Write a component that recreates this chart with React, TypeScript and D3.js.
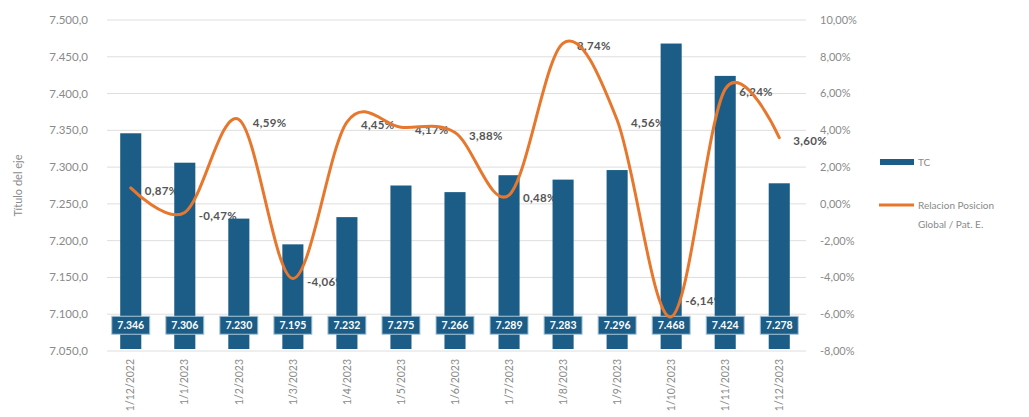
import React from 'react';
import * as d3 from 'd3';

const categories = [
  '1/12/2022', '1/1/2023', '1/2/2023', '1/3/2023', '1/4/2023', '1/5/2023', '1/6/2023',
  '1/7/2023', '1/8/2023', '1/9/2023', '1/10/2023', '1/11/2023', '1/12/2023',
];
const tcValues = [7346, 7306, 7230, 7195, 7232, 7275, 7266, 7289, 7283, 7296, 7468, 7424, 7278];
const ratioValues = [0.87, -0.47, 4.59, -4.06, 4.45, 4.17, 3.88, 0.48, 8.74, 4.56, -6.14, 6.24, 3.6];
const leftTicks = [7050, 7100, 7150, 7200, 7250, 7300, 7350, 7400, 7450, 7500];
const rightTicks = [-8, -6, -4, -2, 0, 2, 4, 6, 8, 10];
const seriesNames = ['TC', 'Relacion Posicion', 'Global / Pat. E.'];
const axisTitle = 'Título del eje';

const W = 1029;
const H = 417;
const BAR = '#1b5d86';
const ORANGE = '#e8772e';
const GRID = '#dedede';
const AXIS_TXT = '#8a8a8a';
const FONT = 'Lato, "Open Sans", sans-serif';

const es = d3.formatLocale({
  decimal: ',', thousands: '.', grouping: [3], currency: ['', ''], minus: '-',
});
const fmtLeft = es.format(',.1f');
const fmtBox = es.format(',.0f');
const fmtPct = (v: number) => `${es.format(',.2f')(v)}%`;

// label nudge for the one label Excel pushed up
const labelDy = (i: number) => (i === 10 ? -19 : 0);

const App = () => {
  const x = d3.scaleBand<string>()
    .domain(categories)
    .range([104, 806])
    .paddingInner(0.61)
    .paddingOuter(0.3);
  const yL = d3.scaleLinear().domain([7050, 7500]).range([351, 20]);
  const yR = d3.scaleLinear().domain([-8, 10]).range([351, 20]);
  const cx = (i: number) => (x(categories[i]) as number) + x.bandwidth() / 2;

  const linePath = d3.line<number>()
    .x((_, i) => cx(i))
    .y((d) => yR(d))
    .curve(d3.curveCardinal.tension(0))(ratioValues) as string;

  return (
    <svg
      width={W}
      height={H}
      style={{ position: 'absolute', left: 0, top: 0, background: '#fff' }}
      fontFamily={FONT}
    >
      {leftTicks.map((t) => (
        <g key={t}>
          <line x1={107} x2={806} y1={yL(t)} y2={yL(t)} stroke={GRID} strokeWidth={1} />
          <text x={88} y={yL(t)} dy="0.35em" textAnchor="end" fontSize={11.5} fill={AXIS_TXT}>
            {fmtLeft(t)}
          </text>
        </g>
      ))}
      {rightTicks.map((t) => (
        <text key={t} x={820} y={yR(t)} dy="0.35em" fontSize={11} fill={AXIS_TXT}>
          {fmtPct(t)}
        </text>
      ))}
      <text
        transform={`translate(22, ${(20 + 351) / 2}) rotate(-90)`}
        textAnchor="middle"
        fontSize={11}
        fill={AXIS_TXT}
      >
        {axisTitle}
      </text>

      {ratioValues.map((v, i) => (
        <text
          key={categories[i]}
          x={cx(i) + 14}
          y={yR(v) + 3 + labelDy(i)}
          dy="0.35em"
          fontSize={11.5}
          fontWeight="bold"
          letterSpacing={0.3}
          fill="#555"
        >
          {fmtPct(v)}
        </text>
      ))}

      {tcValues.map((v, i) => (
        <rect
          key={categories[i]}
          x={x(categories[i])}
          y={yL(v)}
          width={x.bandwidth()}
          height={yL(7050) - yL(v) - 2}
          fill={BAR}
        />
      ))}
      {tcValues.map((v, i) => (
        <g key={categories[i]} transform={`translate(${cx(i)}, ${yL(7085)})`}>
          <rect x={-19} y={-9} width={38} height={18} fill={BAR} stroke="#a9c8dc" strokeWidth={1} />
          <text textAnchor="middle" dy="0.36em" fontSize={10.5} fontWeight="bold" fill="#fff">
            {fmtBox(v)}
          </text>
        </g>
      ))}

      <path d={linePath} fill="none" stroke={ORANGE} strokeWidth={3} strokeLinecap="round" />

      {categories.map((c, i) => (
        <text
          key={c}
          transform={`translate(${cx(i)}, 359) rotate(-90)`}
          textAnchor="end"
          dy="0.35em"
          fontSize={10.5}
          fill={AXIS_TXT}
        >
          {c}
        </text>
      ))}

      <rect x={880} y={159} width={34} height={6} fill={BAR} />
      <text x={918} y={162} dy="0.35em" fontSize={10} fill={AXIS_TXT}>{seriesNames[0]}</text>
      <line x1={879} x2={914} y1={205} y2={205} stroke={ORANGE} strokeWidth={3} />
      <text x={918} y={205} dy="0.35em" fontSize={10} fill={AXIS_TXT}>{seriesNames[1]}</text>
      <text x={918} y={224} dy="0.35em" fontSize={10} fill={AXIS_TXT}>{seriesNames[2]}</text>
    </svg>
  );
};

export default App;
